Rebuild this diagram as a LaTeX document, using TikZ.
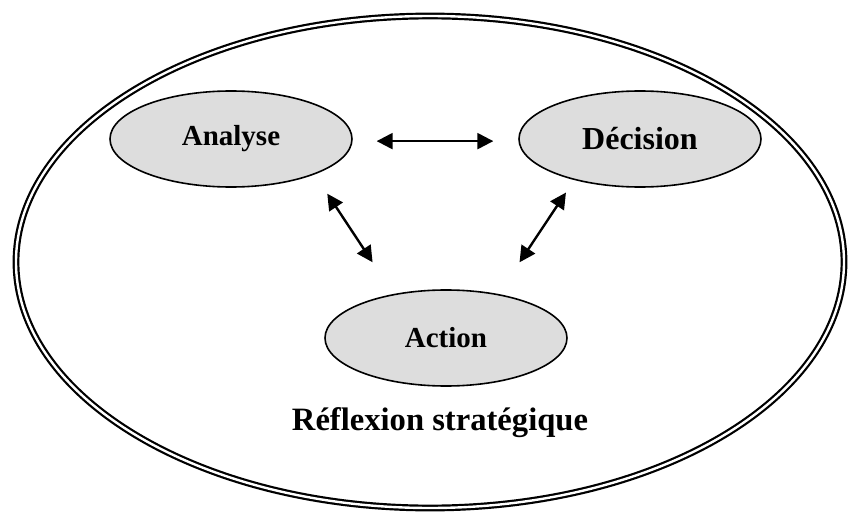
\documentclass[tikz,border=0pt]{standalone}
\usepackage{fontspec}
\setmainfont{Liberation Serif}
\usetikzlibrary{shapes.geometric,arrows.meta}
\definecolor{phasegray}{RGB}{221,221,221}
\tikzset{
  phase/.style={ellipse,draw,line width=0.8pt,fill=phasegray,
    minimum width=121pt,minimum height=48pt,inner sep=0pt,
    font=\bfseries\fontsize{14.5}{16}\selectfont},
  bigphase/.style={phase,font=\bfseries\fontsize{16}{18}\selectfont},
  link/.style={{Triangle[length=8pt,width=8pt]}-{Triangle[length=8pt,width=8pt]},line width=1.2pt}
}
\begin{document}
\begin{tikzpicture}[x=0.5pt,y=-0.5pt]
      \useasboundingbox (0,0) rectangle (848,514);
      \draw
        (430,262) node[ellipse,draw,double,line width=1.1pt,double distance=1.2pt,
          minimum width=414pt,minimum height=246pt] (cadre){}
        (231,139) node[phase] (analyse){Analyse}
        (640,139) node[bigphase] (decision){Décision}
        (446,338) node[phase] (action){Action}
        (440,430) node[anchor=base,font=\bfseries\fontsize{16.3}{18}\selectfont] (titre){Réflexion stratégique};
      \begin{scope}[link]
        \draw[shorten <=12pt,shorten >=12.5pt] (analyse.-1.5) to (decision.181.5);
        \draw[shorten <=11.5pt,shorten >=19pt] (analyse.-23) to (action.140);
        \draw[shorten <=7.5pt,shorten >=19pt] (decision.-148) to (action.40);
      \end{scope}
    \end{tikzpicture}
\end{document}
